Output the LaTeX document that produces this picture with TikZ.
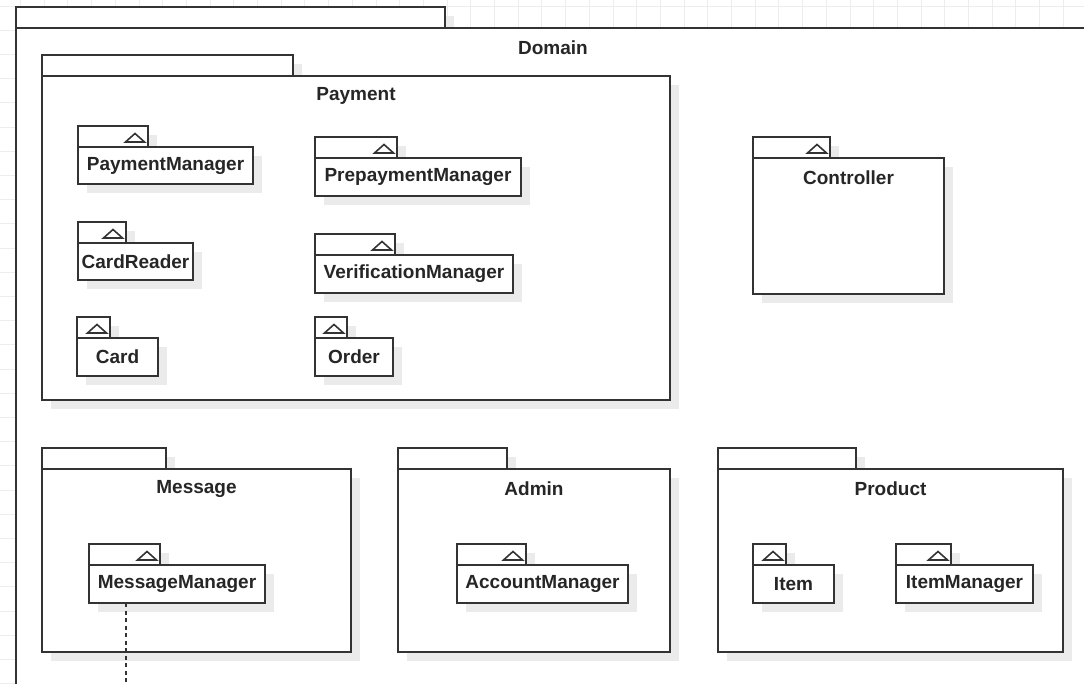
\documentclass[tikz,border=0pt]{standalone}
\usepackage{fontspec}
\setmainfont{Liberation Sans}
\definecolor{linec}{HTML}{333333}
\definecolor{shadowc}{HTML}{EBEBEB}
\definecolor{gridc}{HTML}{EDEDED}
\tikzset{
  pkgbox/.style={draw=linec, fill=white, line width=1.8pt, inner sep=0pt, outer sep=0pt},
  shade box/.style={fill=shadowc},
  lbl/.style={font=\fontsize{19}{22}\selectfont\bfseries, text=black!85, inner sep=0pt},
  tri/.style={draw=linec, line width=1.6pt, line join=miter},
  dep/.style={draw=linec, line width=1.6pt, dash pattern=on 4pt off 3.5pt}
}
% id, x1, ytab, tabx, x2, y2
\newcommand\pkgshape[6]{%
  \fill[shade box] (#2+9,#3+9) rectangle (#4+9,#3+30);
  \fill[shade box] (#2+9,#3+30) rectangle (#5+9,#6+9);
  \node[pkgbox, anchor=north west, minimum width={(#4-#2)*1pt}, minimum height=21pt] (#1-tab) at (#2,#3) {};
  \node[pkgbox, anchor=north west, minimum width={(#5-#2)*1pt}, minimum height={(#6-#3-21)*1pt}] (#1) at (#2,#3+21) {};
}
% triangle in tab: tabx, ytab
\newcommand\pkgtri[2]{%
  \draw[tri] (#1-22.5,#2+16) -- (#1-3.5,#2+16) -- (#1-13,#2+7.5) -- cycle;
}
\begin{document}
\begin{tikzpicture}[x=1pt,y=-1pt]
\useasboundingbox (0,0) rectangle (1084,684);
\begin{scope}
\clip (0,0) rectangle (1084,684);
% background grid
\foreach \i in {0,...,46} {\draw[gridc, line width=0.8pt] (-3.3+23.7*\i,0) -- (-3.3+23.7*\i,684);}
\foreach \j in {0,...,28} {\draw[gridc, line width=0.8pt] (0,6+24.2*\j) -- (1084,6+24.2*\j);}
% Domain
\pkgshape{domain}{16}{7}{445}{1092}{720}
\node[lbl] (domain-lbl) at (553,48) {Domain};
% Payment
\pkgshape{payment}{42}{55}{293}{670}{400}
\node[lbl] (payment-lbl) at (356,96) {Payment};
\pkgshape{pm}{78}{126}{148}{253}{184}
\pkgtri{148}{126}
\node[lbl] (pm-lbl) at (pm.center) {PaymentManager};
\pkgshape{cr}{78}{222}{126}{193}{280}
\pkgtri{126}{222}
\node[lbl] (cr-lbl) at (cr.center) {CardReader};
\pkgshape{card}{77}{317}{110}{158}{376}
\pkgtri{110}{317}
\node[lbl] (card-lbl) at (card.center) {Card};
\pkgshape{ppm}{315}{137}{397}{521}{196}
\pkgtri{397}{137}
\node[lbl] (ppm-lbl) at (ppm.center) {PrepaymentManager};
\pkgshape{vm}{315}{234}{395}{513}{293}
\pkgtri{395}{234}
\node[lbl] (vm-lbl) at (vm.center) {VerificationManager};
\pkgshape{order}{315}{317}{347}{393}{376}
\pkgtri{347}{317}
\node[lbl] (order-lbl) at (order.center) {Order};
% Controller
\pkgshape{ctrl}{753}{137}{830}{944}{294}
\pkgtri{830}{137}
\node[lbl] (ctrl-lbl) at (848.5,178) {Controller};
% Message
\pkgshape{msg}{42}{448}{166}{351}{652}
\node[lbl] (msg-lbl) at (196.5,489) {Message};
\pkgshape{mm}{89}{544}{160}{265}{603}
\pkgtri{160}{544}
\node[lbl] (mm-lbl) at (mm.center) {MessageManager};
% Admin
\pkgshape{admin}{398}{448}{507}{670}{652}
\node[lbl] (admin-lbl) at (534,489) {Admin};
\pkgshape{am}{457}{544}{526}{628}{603}
\pkgtri{526}{544}
\node[lbl] (am-lbl) at (am.center) {AccountManager};
% Product
\pkgshape{prod}{718}{448}{856}{1063}{652}
\node[lbl] (prod-lbl) at (890.5,489) {Product};
\pkgshape{item}{753}{544}{786}{834}{603}
\pkgtri{786}{544}
\node[lbl] (item-lbl) at (item.center) {Item};
\pkgshape{im}{896}{544}{951}{1033}{603}
\pkgtri{951}{544}
\node[lbl] (im-lbl) at (im.center) {ItemManager};
% dependency leaving MessageManager
\coordinate (mmend) at (126,690);
\draw[dep] (mm.south -| mmend) -- (mmend);
\end{scope}
\end{tikzpicture}
\end{document}
